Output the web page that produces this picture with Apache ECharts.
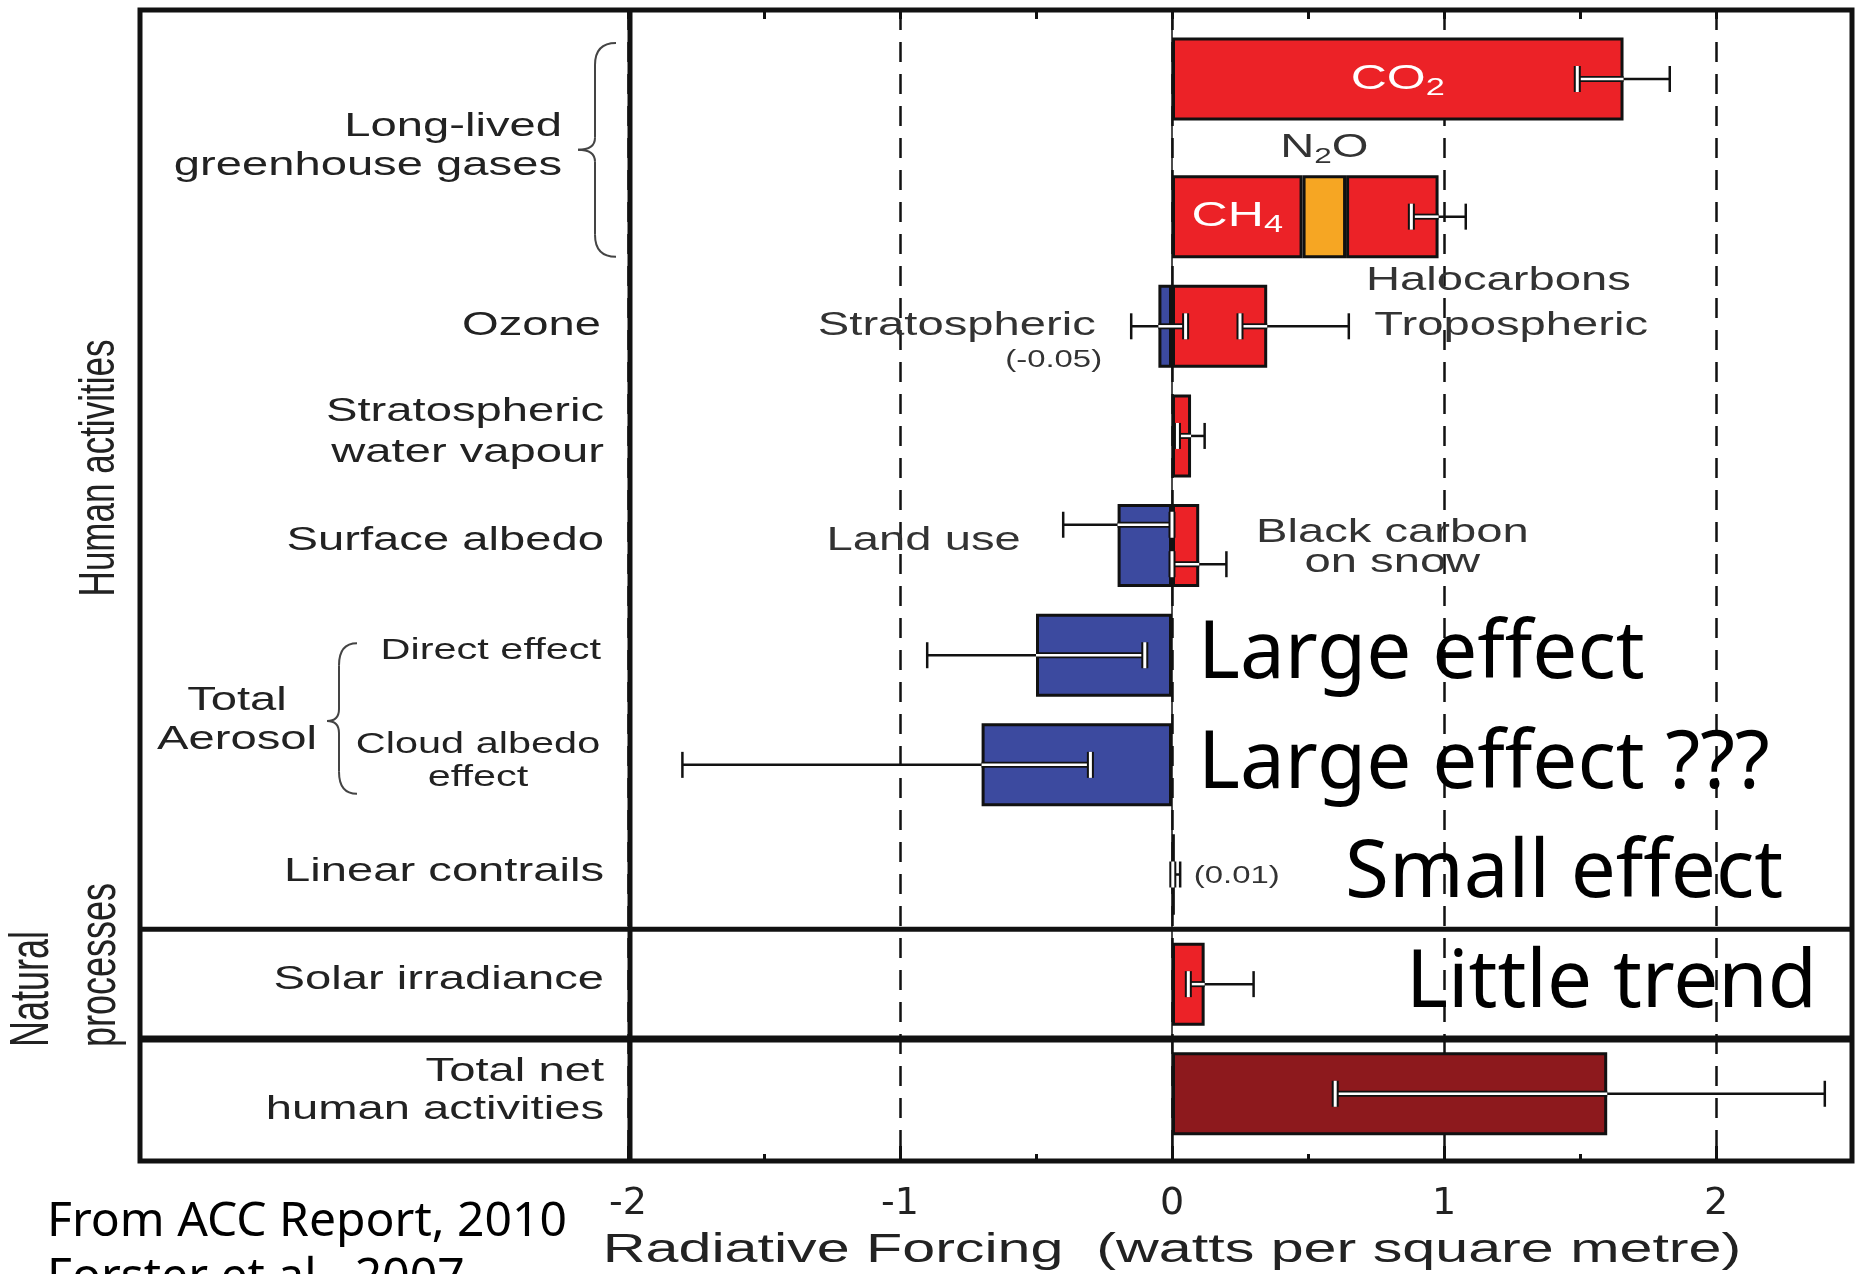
<!DOCTYPE html>
<html><head><meta charset="utf-8">
<script src="https://cdn.jsdelivr.net/npm/echarts@6/dist/echarts.min.js"></script>
<style>html,body{margin:0;padding:0;background:#fff;overflow:hidden}#c{width:1856px;height:1274px}</style>
</head><body><div id="c"></div>
<script>
// ---------------- DATA ----------------
const categories = ['CO2', 'CH4 / N2O / Halocarbons', 'Ozone', 'Stratospheric water vapour',
  'Surface albedo', 'Direct effect', 'Cloud albedo effect', 'Linear contrails',
  'Solar irradiance', 'Total net human activities'];
// radiative forcing (W/m2) of the stacked segments in each row
const forcingCO2    = [1.66, null, null, null, null, null, null, null, null, null];
const forcingMain   = [null, 0.48, 0.35, 0.07, 0.10, -0.50, -0.70, 0.01, 0.12, 1.60];
const forcingSecond = [null, 0.16, -0.05, null, -0.20, null, null, null, null, null];
const forcingThird  = [null, 0.34, null, null, null, null, null, null, null, null];
// uncertainty ranges
const errLowMain    = [1.49, null, 0.25, 0.02, 0.00, -0.90, -1.80, 0.003, 0.06, 0.60];
const errHighMain   = [1.83, null, 0.65, 0.12, 0.20, -0.10, -0.30, 0.03, 0.30, 2.40];
const errLowSecond  = [null, null, -0.15, null, -0.40, null, null, null, null, null];
const errHighSecond = [null, null, 0.05, null, 0.00, null, null, null, null, null];
const errLowThird   = [null, 0.88, null, null, null, null, null, null, null, null];
const errHighThird  = [null, 1.08, null, null, null, null, null, null, null, null];
const xTickLabels = [-2, -1, 0, 1, 2];

// ---------------- STYLE ----------------
const RED = '#EC2227', BLUE = '#3C4A9F', ORANGE = '#F6A623', DARK = '#8D191D', INK = '#111';
const FONT = '"Liberation Sans", Arial, sans-serif';
const HAND = '"Noto Sans", sans-serif';
const mainColor = i => (i === 5 || i === 6) ? BLUE : (i === 9 ? DARK : RED);
const secondColor = i => i === 1 ? ORANGE : BLUE;
const GL = 628, GW = 1224;
const BAR_W = 83;
const STACK_SHIFT = 28;               // vertical distance between the CO2 stack and the other stack
const BAR_GAP = ((STACK_SHIFT / BAR_W) - 1) * 100 + '%';
const rowShift = i => (i === 0 ? -STACK_SHIFT / 2 : STACK_SHIFT / 2);

const rowExtent = categories.map((c, i) => {
  let pos = 0, neg = 0;
  [forcingCO2[i], forcingMain[i], forcingSecond[i], forcingThird[i]].forEach(v => {
    if (v === null) return; if (v >= 0) pos += v; else neg += v;
  });
  return [neg, pos];
});

function barSeries(name, stack, values, colorFn) {
  return {
    name, type: 'bar', stack, xAxisIndex: 3, yAxisIndex: 1, barWidth: BAR_W, barGap: BAR_GAP, z: 2,
    itemStyle: { borderColor: INK, borderWidth: 3 },
    data: values.map((v, i) => v === null ? '-' : { value: v, itemStyle: { color: colorFn(i) } })
  };
}

function errorSeries(low, high, laneFn) {
  const data = [];
  low.forEach((lo, i) => { if (lo !== null) data.push([lo, high[i], i]); });
  return {
    type: 'custom', xAxisIndex: 3, yAxisIndex: 1, z: 5,
    encode: { x: [0, 1], y: 2 }, data,
    renderItem(params, api) {
      const lo = api.value(0), hi = api.value(1), row = api.value(2);
      const [inMin, inMax] = rowExtent[row];
      const band = api.size([0, 1])[1];
      const yc = api.coord([0, row])[1] + rowShift(row) + laneFn(row) * band;
      const X = v => api.coord([v, row])[0];
      const eps = 1e-9, capH = 13;
      const inside = v => v >= inMin - eps && v <= inMax + eps;
      const ch = [];
      ch.push({ type: 'line', shape: { x1: X(lo), y1: yc, x2: X(hi), y2: yc }, style: { stroke: INK, lineWidth: 2.5 } });
      const a = Math.max(lo, inMin), b = Math.min(hi, inMax);
      if (b > a) {
        ch.push({ type: 'line', shape: { x1: X(a), y1: yc, x2: X(b), y2: yc }, style: { stroke: INK, lineWidth: 6 } });
        ch.push({ type: 'line', shape: { x1: X(a), y1: yc, x2: X(b), y2: yc }, style: { stroke: '#fff', lineWidth: 2.5 } });
      }
      [lo, hi].forEach(v => {
        const x = X(v);
        const sh = { x1: x, y1: yc - capH, x2: x, y2: yc + capH };
        if (inside(v)) {
          ch.push({ type: 'line', shape: sh, style: { stroke: INK, lineWidth: 7 } });
          ch.push({ type: 'line', shape: sh, style: { stroke: '#fff', lineWidth: 3 } });
        } else {
          ch.push({ type: 'line', shape: sh, style: { stroke: INK, lineWidth: 2.5 } });
        }
      });
      return { type: 'group', children: ch };
    }
  };
}

const chart = echarts.init(document.getElementById('c'), null, { renderer: 'canvas' });
chart.setOption({
  animation: false,
  backgroundColor: '#fff',
  grid: [
    { left: GL, width: GW, top: 10, height: 1151 },
    { left: GL, width: GW, top: 38.2, height: 1096.4 }
  ],
  xAxis: [
    { gridIndex: 0, type: 'value', position: 'bottom', min: -2, max: 2.5, interval: 1,
      axisLine: { show: false, onZero: false },
      axisTick: { show: true, inside: true, length: 15, lineStyle: { color: INK, width: 3 } },
      axisLabel: { show: true, margin: 24, fontSize: 38, fontFamily: '"DejaVu Sans", sans-serif', color: '#222',
        formatter: v => xTickLabels.indexOf(v) >= 0 ? String(v) : '' },
      splitLine: { show: true, lineStyle: { color: INK, width: 2.5, type: [20, 12] } } },
    { gridIndex: 0, type: 'value', position: 'bottom', min: -2, max: 2.5, interval: 0.5,
      axisLine: { show: false, onZero: false },
      axisTick: { show: true, inside: true, length: 7, lineStyle: { color: INK, width: 3 } },
      axisLabel: { show: false }, splitLine: { show: false } },
    { gridIndex: 0, type: 'value', position: 'top', min: -2, max: 2.5, interval: 0.5,
      axisLine: { show: false, onZero: false },
      axisTick: { show: true, inside: true, length: 9, lineStyle: { color: INK, width: 3 } },
      axisLabel: { show: false }, splitLine: { show: false } },
    { gridIndex: 1, type: 'value', min: -2, max: 2.5, show: false }
  ],
  yAxis: [
    { gridIndex: 0, type: 'value', min: 0, max: 1,
      axisLine: { show: true, onZero: true, onZeroAxisIndex: 0, lineStyle: { color: INK, width: 1.5 } },
      axisTick: { show: false }, axisLabel: { show: false }, splitLine: { show: false } },
    { gridIndex: 1, type: 'category', data: categories, inverse: true, show: false }
  ],
  series: [
    barSeries('CO2', 'lead', forcingCO2, () => RED),
    barSeries('main', 'rf', forcingMain, mainColor),
    barSeries('second', 'rf', forcingSecond, secondColor),
    barSeries('third', 'rf', forcingThird, () => RED),
    errorSeries(errLowMain, errHighMain, r => r === 4 ? 0.17 : 0),
    errorSeries(errLowSecond, errHighSecond, r => r === 4 ? -0.19 : 0),
    errorSeries(errLowThird, errHighThird, () => 0)
  ]
});

// ---------------- ANNOTATIONS ----------------
const rowY = i => chart.convertToPixel({ yAxisIndex: 1 }, categories[i]) + rowShift(i);
const xPix = v => chart.convertToPixel({ xAxisIndex: 3 }, v);

function txt(text, x, y, o = {}) {
  const style = { text, fontSize: o.fs || 33, fontFamily: o.ff || FONT, fill: o.fill || '#222',
    align: o.align || 'right', verticalAlign: 'middle', fontWeight: o.fw || 'normal' };
  if (o.lh) style.lineHeight = o.lh;
  if (o.rich) style.rich = o.rich;
  const el = { type: 'text', x, y, z: 100, style };
  el.scaleX = o.sx !== undefined ? o.sx : 1.43;
  if (o.sy) el.scaleY = o.sy;
  if (o.rot) el.rotation = o.rot;
  return el;
}
const subRich = (c, fs) => ({ s: { fontSize: fs || 22, fontFamily: FONT, fill: c, padding: [18, 0, 0, 0] } });

const y7y8 = (rowY(7) + rowY(8)) / 2, y8y9 = (rowY(8) + rowY(9)) / 2;
const mid01 = (rowY(0) + rowY(1)) / 2, mid56 = (rowY(5) + rowY(6)) / 2;

function brace(xArm, xSpine, xPoint, T, B, M) {
  const st = { fill: 'none', stroke: '#444', lineWidth: 2 };
  const bz = (x1, y1, cx, cy, x2, y2) => ({ type: 'bezierCurve', z: 60, shape: { x1, y1, x2, y2, cpx1: cx, cpy1: cy }, style: st });
  const ln = (x1, y1, x2, y2) => ({ type: 'line', z: 60, shape: { x1, y1, x2, y2 }, style: st });
  return [
    bz(xArm, T, xSpine, T, xSpine, T + 22),
    ln(xSpine, T + 22, xSpine, M - 12),
    bz(xSpine, M - 12, xSpine, M, xPoint, M),
    bz(xPoint, M, xSpine, M, xSpine, M + 12),
    ln(xSpine, M + 12, xSpine, B - 22),
    bz(xSpine, B - 22, xSpine, B, xArm, B)
  ];
}
const fmt = v => '(' + v.toFixed(2) + ')';
const llghgTop = forcingMain[1] + forcingSecond[1] + forcingThird[1];

const graphics = [
  { type: 'rect', z: 60, shape: { x: 140, y: 10, width: 1712, height: 1151 }, style: { fill: 'none', stroke: INK, lineWidth: 5 } },
  { type: 'line', z: 60, shape: { x1: 630, y1: 10, x2: 630, y2: 1161 }, style: { stroke: INK, lineWidth: 5 } },
  { type: 'line', z: 60, shape: { x1: 140, y1: y7y8, x2: 1852, y2: y7y8 }, style: { stroke: INK, lineWidth: 5 } },
  { type: 'line', z: 60, shape: { x1: 140, y1: y8y9, x2: 1852, y2: y8y9 }, style: { stroke: INK, lineWidth: 7 } },
  ...brace(616, 595, 578, rowY(0) - 36, rowY(1) + 40, mid01 + 2),
  ...brace(357, 339, 327, rowY(5) - 12, rowY(6) + 29, mid56 + 11),

  // side group labels
  txt('Human activities', 100, 468, { fs: 35, align: 'center', sx: 1, sy: 1.45, rot: Math.PI / 2 }),
  txt('Natural', 33, 1047, { fs: 36, align: 'left', sx: 1, sy: 1.55, rot: Math.PI / 2 }),
  txt('processes', 101, 1047, { fs: 36, align: 'left', sx: 1, sy: 1.45, rot: Math.PI / 2 }),

  // row labels
  txt('Long-lived\ngreenhouse gases', 562, mid01 - 1, { lh: 39 }),
  txt('Ozone', 601, rowY(2)),
  txt('Stratospheric\nwater vapour', 604, rowY(3) - 4, { lh: 41 }),
  txt('Surface albedo', 604, rowY(4) - 5),
  txt('Total\nAerosol', 237, mid56 + 10, { align: 'center', lh: 39 }),
  txt('Direct effect', 601, rowY(5) - 4, { fs: 29 }),
  txt('Cloud albedo\neffect', 478, rowY(6) - 3, { fs: 29, align: 'center', lh: 33 }),
  txt('Linear contrails', 604, rowY(7) - 3),
  txt('Solar irradiance', 604, rowY(8) - 4),
  txt('Total net\nhuman activities', 604, rowY(9) - 3, { lh: 38 }),

  // in-plot labels
  txt('CO{s|2}', xPix(forcingCO2[0] / 2), rowY(0), { align: 'center', fill: '#fff', fs: 35, rich: subRich('#fff', 24) }),
  txt('CH{s|4}', xPix(forcingMain[1] / 2), rowY(1), { align: 'center', fill: '#fff', fs: 35, rich: subRich('#fff', 24) }),
  txt('N{s|2}O', xPix(forcingMain[1] + forcingSecond[1] / 2), rowY(1) - 69, { align: 'center', fill: '#333', rich: subRich('#333') }),
  txt('Halocarbons', xPix(llghgTop + 0.22), rowY(1) + 64, { align: 'center', fill: '#333' }),
  txt('Stratospheric', xPix(-0.28), rowY(2), { fill: '#333' }),
  txt(fmt(forcingSecond[2]), xPix(-0.435), rowY(2) + 34, { fs: 23, align: 'center', fill: '#333' }),
  txt('Tropospheric', xPix(0.744), rowY(2), { align: 'left', fill: '#333' }),
  txt('Land use', xPix(-0.556), rowY(4) - 5, { fill: '#333' }),
  txt('Black carbon\non snow', xPix(0.81), rowY(4) + 2, { align: 'center', lh: 30, fill: '#333' }),
  txt(fmt(forcingMain[7]), xPix(0.08), rowY(7) + 2, { fs: 23, align: 'left', fill: '#333' }),

  // hand-written style comments
  txt('Large effect', 1198, rowY(5), { ff: HAND, fs: 80, sx: 1, align: 'left', fill: '#000' }),
  txt('Large effect ???', 1198, rowY(6), { ff: HAND, fs: 80, sx: 1, align: 'left', fill: '#000' }),
  txt('Small effect', 1345, rowY(7), { ff: HAND, fs: 80, sx: 1, align: 'left', fill: '#000' }),
  txt('Little trend', 1406, rowY(8), { ff: HAND, fs: 80, sx: 1, align: 'left', fill: '#000' }),

  // axis title and source
  txt('Radiative Forcing  (watts per square metre)', xPix(0), 1251, { fs: 40, sx: 1.48, align: 'center' }),
  txt('From ACC Report, 2010', 47, 1222, { ff: HAND, fs: 48, sx: 1, align: 'left', fill: '#000' }),
  txt('Forster et al., 2007', 47, 1278, { ff: HAND, fs: 48, sx: 1, align: 'left', fill: '#000' })
];
chart.setOption({ graphic: { elements: graphics } });
</script>
</body></html>
